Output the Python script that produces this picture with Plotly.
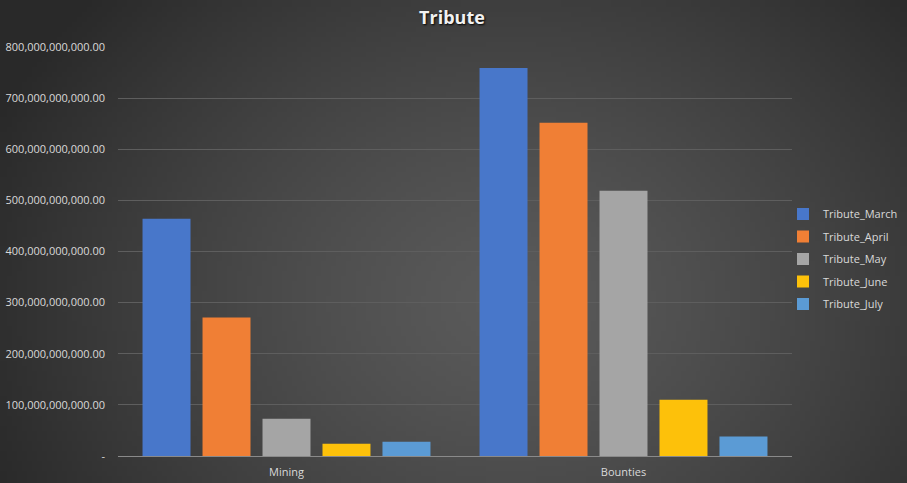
import base64, struct, zlib, math
import plotly.graph_objects as go

categories = ["Mining", "Bounties"]
series_names = ["Tribute_March", "Tribute_April", "Tribute_May", "Tribute_June", "Tribute_July"]
tribute_march = [464e9, 759e9]
tribute_april = [271e9, 652e9]
tribute_may = [73e9, 519e9]
tribute_june = [24e9, 110e9]
tribute_july = [28e9, 38e9]
tick_vals = [0, 100e9, 200e9, 300e9, 400e9, 500e9, 600e9, 700e9, 800e9]
tick_text = ["-", "100,000,000,000.00", "200,000,000,000.00", "300,000,000,000.00",
             "400,000,000,000.00", "500,000,000,000.00", "600,000,000,000.00",
             "700,000,000,000.00", "800,000,000,000.00"]

colors = ["#4877CA", "#F07F35", "#A5A5A5", "#FDC10A", "#5B9BD5"]
values = [tribute_march, tribute_april, tribute_may, tribute_june, tribute_july]

W, H = 907, 483


def make_bg(w=182, h=97):
    cx, cy = 0.56 * w, 0.62 * h
    rows = []
    for j in range(h):
        row = bytearray([0])
        for i in range(w):
            dx = (i - cx) / (w * 0.62)
            dy = (j - cy) / (h * 0.95)
            d = min(1.0, math.sqrt(dx * dx + dy * dy))
            c0, c1 = 0x5A, 0x29
            v = int(round(c0 + (c1 - c0) * d ** 1.3))
            row += bytes([v, v, v])
        rows.append(bytes(row))
    raw = b"".join(rows)

    def chunk(t, d):
        c = struct.pack(">I", len(d)) + t + d
        return c + struct.pack(">I", zlib.crc32(t + d) & 0xffffffff)
    png = b"\x89PNG\r\n\x1a\n" + chunk(b"IHDR", struct.pack(">IIBBBBB", w, h, 8, 2, 0, 0, 0)) \
        + chunk(b"IDAT", zlib.compress(raw, 9)) + chunk(b"IEND", b"")
    return "data:image/png;base64," + base64.b64encode(png).decode()


L, T, B = 118, 47, 27
PLOT_R = 792
pw_total = W - L          # paper width (right margin 0)
ph = H - T - B
dom_end = (PLOT_R - L) / pw_total

fig = go.Figure()
for name, vals, col in zip(series_names, values, colors):
    fig.add_trace(go.Bar(x=categories, y=vals, name=name, legendgroup=name,
                         marker=dict(color=col, line=dict(width=0))))

fig.update_layout(
    width=W, height=H,
    margin=dict(l=L, r=0, t=T, b=B, pad=0),
    paper_bgcolor="#3f3f3f",
    plot_bgcolor="rgba(0,0,0,0)",
    barmode="group", bargap=0.11, bargroupgap=0.2,
    title=dict(text="<b>Tribute</b>", x=452 / W, xanchor="center", y=1 - 18 / H, yanchor="middle",
               font=dict(family="Open Sans", size=18, color="#f2f2f2", shadow="1px 1px 2px #000")),
    font=dict(family="Open Sans", color="#d9d9d9", size=11),
    legend=dict(x=(783 - L) / pw_total, xanchor="left", y=(H - B - 259) / ph, yanchor="middle",
                font=dict(size=11, color="#d9d9d9"), tracegroupgap=3.5, itemwidth=30,
                bgcolor="rgba(0,0,0,0)"),
    images=[dict(source=make_bg(), xref="paper", yref="paper", x=-L / pw_total, y=1 + T / ph,
                 sizex=W / pw_total, sizey=H / ph, sizing="stretch", layer="below",
                 xanchor="left", yanchor="top")],
    showlegend=True,
)
fig.update_yaxes(range=[0, 800e9], tickvals=tick_vals, ticktext=tick_text, showgrid=True,
                 gridcolor="#5e5e5e", gridwidth=1, zeroline=False, showline=False,
                 tickfont=dict(size=11, color="#d9d9d9"), ticks="", ticklabelstandoff=12)
fig.update_xaxes(domain=[0, dom_end], showline=True, linecolor="#8a8a8a", linewidth=1,
                 showgrid=False, tickfont=dict(size=11, color="#d9d9d9"), ticks="",
                 ticklabelstandoff=6)

fig.write_html("out.html", config={"displayModeBar": False},
               post_script="document.body.style.margin='0';")
